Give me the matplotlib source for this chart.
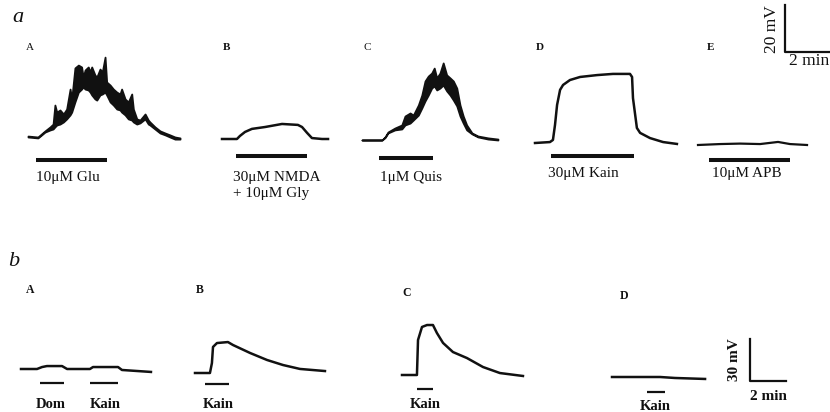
import matplotlib
matplotlib.use('Agg')
import matplotlib.pyplot as plt

# ---------------- data (time in min, potential in mV) ----------------
# Panel a, trace A: 10 uM Glu (noisy band: upper / lower envelope)
glu_t  = [0, .43, .74, .96, 1.09, 1.17, 1.25, 1.39, 1.54, 1.68, 1.83, 1.90, 2.04, 2.19, 2.33,
          2.40, 2.48, 2.62, 2.70, 2.77, 2.91, 2.99, 3.13, 3.23, 3.35, 3.42, 3.57, 3.71, 3.86,
          4.00, 4.07, 4.22, 4.36, 4.51, 4.58, 4.73, 4.87, 5.09, 5.23, 5.30, 5.52, 5.74, 5.96,
          6.17, 6.39, 6.61]
glu_hi = [0.4, 0.0, 2.6, 4.3, 5.5, 13.6, 10.6, 11.5, 9.8, 11.9, 20.4, 16.2, 29.4, 30.6, 29.8,
          25.5, 28.5, 29.8, 27.7, 29.8, 26.4, 25.5, 28.9, 27.7, 34.0, 23.4, 22.1, 20.4, 19.1,
          18.3, 20.4, 16.2, 14.9, 18.3, 11.9, 7.7, 7.2, 9.8, 7.2, 6.4, 4.3, 2.6, 1.7,
          0.9, 0.0, -0.4]
glu_lo = [0.0, -0.4, 2.1, 3.0, 3.4, 4.3, 5.1, 5.5, 6.4, 7.7, 9.4, 10.6, 14.9, 19.1, 20.4,
          21.3, 20.4, 20.0, 19.1, 17.9, 16.2, 15.7, 17.9, 18.3, 19.1, 17.9, 14.9, 13.6, 11.9,
          11.5, 10.6, 9.4, 7.7, 7.2, 6.4, 5.5, 6.0, 7.7, 5.5, 5.1, 3.4, 1.7, 0.9,
          0.0, -0.9, -0.9]
# Panel a, trace B: 30 uM NMDA + 10 uM Gly
nmda_t = [0, 0.65, 0.78, 1.0, 1.30, 1.87, 2.61, 3.30, 3.48, 3.70, 3.91, 4.35, 4.61]
nmda_v = [0, 0, 1.3, 3.0, 4.3, 5.1, 6.4, 6.0, 5.1, 2.6, 0.4, 0, 0]
# Panel a, trace C: 1 uM Quis (noisy band)
quis_t  = [0, .87, 1.0, 1.13, 1.43, 1.73, 1.87, 2.09, 2.23, 2.45, 2.60, 2.74, 2.88, 3.03, 3.14,
           3.25, 3.39, 3.53, 3.68, 3.83, 3.97, 4.12, 4.26, 4.40, 4.55, 4.78, 5.04, 5.48, 5.91]
quis_hi = [0, 0, 1.3, 3.4, 5.1, 6.4, 10.2, 11.5, 10.6, 14.9, 19.1, 25.1, 27.2, 28.5, 30.6,
           26.4, 28.5, 32.8, 27.7, 26.4, 25.1, 22.1, 14.9, 10.2, 6.4, 3.0, 1.7, 0.9, 0.4]
quis_lo = [0, 0, 1.0, 3.0, 4.3, 4.7, 6.4, 7.2, 8.5, 10.6, 13.6, 16.6, 19.1, 22.1, 23.0,
           21.3, 22.1, 23.4, 20.9, 19.1, 17.0, 14.5, 10.2, 7.2, 4.3, 2.6, 1.3, 0.4, 0]
# Panel a, trace D: 30 uM Kain
kain_t = [0, 0.65, 0.78, 0.87, 0.96, 1.09, 1.22, 1.52, 1.96, 2.70, 3.39, 4.13, 4.22, 4.26,
          4.43, 4.57, 5.0, 5.57, 6.17]
kain_v = [0, 0.4, 1.3, 7.7, 16.2, 22.6, 24.7, 26.8, 28.1, 28.9, 29.4, 29.4, 28.1, 19.1,
          6.4, 4.3, 2.1, 0.4, -0.4]
# Panel a, trace E: 10 uM APB
apb_t = [0, 0.96, 1.83, 2.70, 3.48, 4.0, 4.74]
apb_v = [0, 0.4, 0.6, 0.4, 1.3, 0.4, 0]

# drug application periods (start, end) in min, panel a
a_bars = {'A': (0.35, 3.43), 'B': (0.61, 3.70), 'C': (0.74, 3.09), 'D': (0.70, 4.30), 'E': (0.48, 4.0)}

# Panel b traces
bA_t = [0, 0.89, 1.17, 1.44, 2.28, 2.56, 3.83, 4.0, 5.39, 5.61, 7.22]
bA_v = [0, 0, 1.4, 2.1, 2.1, 0, 0, 1.4, 1.4, -0.7, -2.1]
bB_t = [0, 0.83, 0.94, 1.0, 1.22, 1.83, 2.11, 3.06, 4.0, 4.89, 5.83, 7.22]
bB_v = [0, 0, 7.1, 18.6, 21.4, 22.1, 20.0, 14.3, 9.3, 5.7, 2.9, 1.4]
bC_t = [0, 0.83, 0.89, 1.11, 1.39, 1.72, 1.94, 2.28, 2.83, 3.61, 4.5, 5.44, 6.72]
bC_v = [0, 0, 25, 34.3, 35.7, 35.7, 30, 22.9, 16.4, 12.1, 5.7, 1.4, -0.7]
bD_t = [0, 2.67, 3.5, 5.17]
bD_v = [0, 0, -0.7, -1.4]
b_bars = {'A': [(1.06, 2.39), (3.83, 5.39)], 'B': [(0.56, 1.89)], 'C': [(0.83, 1.72)], 'D': [(1.94, 2.94)]}

# scale bars
a_scale = (2, 20)   # min, mV
b_scale = (2, 30)

# ---------------- drawing ----------------
W, H = 830, 412
fig = plt.figure(figsize=(8.3, 4.12), dpi=100)
fig.patch.set_facecolor('white')
INK = '#111111'
SERIF = ['Liberation Serif', 'DejaVu Serif']


def trace_axes(x0, y0, ppx, ppy):
    """Transparent full-figure axes with t=0 at pixel x0 and 0 mV at pixel row y0."""
    ax = fig.add_axes([0, 0, 1, 1])
    ax.set_xlim(-x0 / ppx, (W - x0) / ppx)
    ax.set_ylim(-(H - y0) / ppy, y0 / ppy)
    ax.axis('off')
    ax.patch.set_alpha(0)
    return ax


def ftext(x, y, s, **kw):
    kw.setdefault('family', SERIF)
    kw.setdefault('color', INK)
    fig.text(x / W, 1 - y / H, s, **kw)


PXa, PYa = 23.0, 2.35   # panel a: px per min, px per mV
PXb, PYb = 18.0, 1.4    # panel b
BAR_A = 2.9

# panel a traces
axA = trace_axes(28, 137, PXa, PYa)
axA.fill_between(glu_t, glu_lo, glu_hi, color=INK, lw=1.3)
axA.plot(a_bars['A'], [-23 / PYa] * 2, color=INK, lw=BAR_A, solid_capstyle='butt')

axB = trace_axes(222, 139, PXa, PYa)
axB.plot(nmda_t, nmda_v, color=INK, lw=1.8)
axB.plot(a_bars['B'], [-17 / PYa] * 2, color=INK, lw=BAR_A, solid_capstyle='butt')

axC = trace_axes(362, 140, PXa, PYa)
axC.fill_between(quis_t, quis_lo, quis_hi, color=INK, lw=1.3)
axC.plot(a_bars['C'], [-18 / PYa] * 2, color=INK, lw=BAR_A, solid_capstyle='butt')

axD = trace_axes(535, 143, PXa, PYa)
axD.plot(kain_t, kain_v, color=INK, lw=1.8)
axD.plot(a_bars['D'], [-13 / PYa] * 2, color=INK, lw=BAR_A, solid_capstyle='butt')

axE = trace_axes(698, 145, PXa, PYa)
axE.plot(apb_t, apb_v, color=INK, lw=1.6)
axE.plot(a_bars['E'], [-15 / PYa] * 2, color=INK, lw=BAR_A, solid_capstyle='butt')

# panel a scale bar
axS = trace_axes(785, 52, PXa, PYa)
axS.plot([0, 0, a_scale[0]], [a_scale[1], 0, 0], color=INK, lw=1.6)

# panel b traces
specs = [('A', bA_t, bA_v, 21, 369, 14), ('B', bB_t, bB_v, 195, 373, 11),
         ('C', bC_t, bC_v, 402, 375, 14), ('D', bD_t, bD_v, 612, 377, 15)]
for key, t, v, x0, y0, off in specs:
    ax = trace_axes(x0, y0, PXb, PYb)
    ax.plot(t, v, color=INK, lw=1.8)
    for s, e in b_bars[key]:
        ax.plot([s, e], [-off / PYb] * 2, color=INK, lw=1.6, solid_capstyle='butt')

axS2 = trace_axes(750, 381, PXb, PYb)
axS2.plot([0, 0, b_scale[0]], [b_scale[1], 0, 0], color=INK, lw=1.6)

# ---------------- text ----------------
ftext(18, 18, 'a', fontsize=16, style='italic', ha='center', va='center')
ftext(14, 262, 'b', fontsize=16, style='italic', ha='center', va='center')

for s, x in [('A', 30), ('B', 226), ('C', 367), ('D', 540), ('E', 711)]:
    ftext(x, 47, s, fontsize=8, ha='center', va='center',
          weight='bold' if s in 'BDE' else 'normal')

FA = 11
ftext(36, 178, '10μM Glu', fontsize=FA, ha='left', va='center')
ftext(233, 178, '30μM NMDA', fontsize=FA, ha='left', va='center')
ftext(233, 193, '+ 10μM Gly', fontsize=FA, ha='left', va='center')
ftext(380, 178, '1μM Quis', fontsize=FA, ha='left', va='center')
ftext(548, 174, '30μM Kain', fontsize=FA, ha='left', va='center')
ftext(712, 174, '10μM APB', fontsize=FA, ha='left', va='center')
ftext(772, 29, '20 mV', fontsize=12.5, rotation=90, ha='center', va='center')
ftext(809, 61, '2 min', fontsize=12.5, ha='center', va='center')

for s, x, y in [('A', 30, 290), ('B', 200, 290), ('C', 407, 293), ('D', 624, 296)]:
    ftext(x, y, s, fontsize=8.5, weight='bold', ha='center', va='center')

FB = 10.5
for s, x, y in [('Dom', 51, 404), ('Kain', 105, 404), ('Kain', 218, 404),
                ('Kain', 425, 405), ('Kain', 655, 406)]:
    ftext(x, y, s, fontsize=FB, weight='bold', ha='center', va='center')
ftext(734, 360, '30 mV', fontsize=11, weight='bold', rotation=90, ha='center', va='center')
ftext(768, 397, '2 min', fontsize=11, weight='bold', ha='center', va='center')

fig.savefig('out.png', dpi=100, facecolor='white')
